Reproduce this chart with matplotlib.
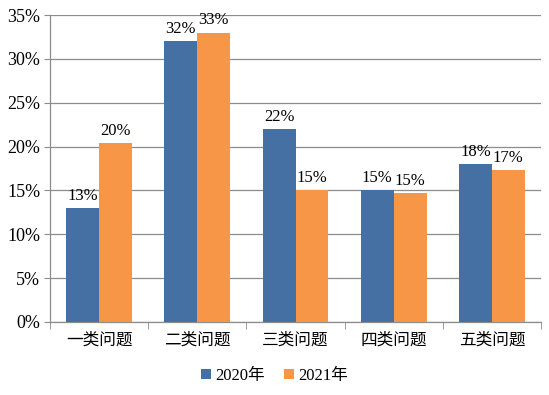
import numpy as np
import matplotlib.pyplot as plt
from matplotlib.ticker import FuncFormatter, FixedLocator

categories = ['一类问题', '二类问题', '三类问题', '四类问题', '五类问题']
series_names = ['2020年', '2021年']
values_2020 = [13, 32, 22, 15, 18]
values_2021 = [20.4, 33, 15, 14.7, 17.3]
yticks = [0, 5, 10, 15, 20, 25, 30, 35]

plt.rcParams['font.family'] = ['Liberation Serif', 'Noto Sans CJK SC']

blue = '#4470a4'
orange = '#f79646'
grey = '#8c8c8c'

fig = plt.figure(figsize=(5.49, 3.95), dpi=100)
ax = fig.add_axes([50 / 549, 1 - 322 / 395, 491 / 549, 307 / 395])

x = np.arange(len(categories))
w = 0.335
b1 = ax.bar(x - w / 2, values_2020, w, color=blue, label=series_names[0], zorder=3)
b2 = ax.bar(x + w / 2, values_2021, w, color=orange, label=series_names[1], zorder=3)

for bars, vals in ((b1, values_2020), (b2, values_2021)):
    for rect, v in zip(bars, vals):
        ax.text(rect.get_x() + rect.get_width() / 2, v + 0.5, f'{round(v):.0f}%',
                ha='center', va='bottom', fontsize=12)

ax.set_xlim(-0.5, len(categories) - 0.5)
ax.set_ylim(0, 35)
ax.set_yticks(yticks)
ax.yaxis.set_major_formatter(FuncFormatter(lambda v, p: f'{v:.0f}%'))
ax.yaxis.grid(True, color=grey, linewidth=0.9, zorder=0)

ax.set_xticks(x)
ax.set_xticklabels(categories, fontsize=12)
ax.xaxis.set_minor_locator(FixedLocator(np.arange(-0.5, len(categories), 1.0)))
ax.tick_params(axis='x', which='major', length=0, pad=8)
ax.tick_params(axis='x', which='minor', length=5, color=grey, direction='out')
ax.tick_params(axis='y', length=4, color=grey, labelsize=13, pad=3)

for s in ('top', 'right'):
    ax.spines[s].set_visible(False)
for s in ('left', 'bottom'):
    ax.spines[s].set_color(grey)
    ax.spines[s].set_linewidth(0.9)

fig.legend(handles=[b1, b2], loc='center', bbox_to_anchor=(0.5, 1 - 376 / 395),
           ncol=2, frameon=False, fontsize=12, handlelength=0.6, handleheight=0.6,
           handletextpad=0.2, columnspacing=1.2)

fig.savefig('out.png', dpi=100)
